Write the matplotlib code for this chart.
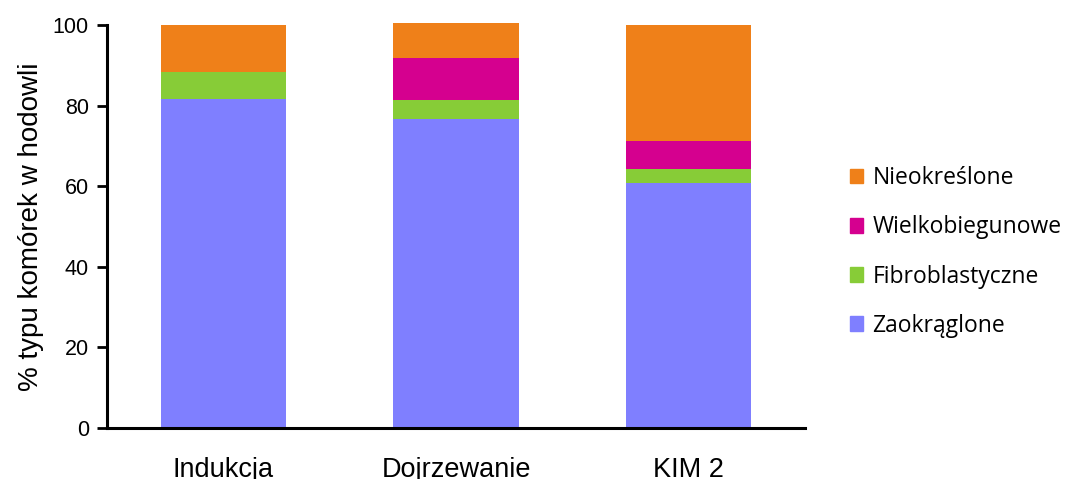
import numpy as np
import matplotlib.pyplot as plt
from matplotlib.patches import Patch

# Udział typów komórek (%) w kolejnych etapach hodowli
etapy = ['Indukcja', 'Dojrzewanie', 'KIM 2']
zaokraglone = [81.6, 76.6, 60.8]
fibroblastyczne = [6.8, 4.9, 3.4]
wielkobiegunowe = [0.0, 10.4, 6.9]
nieokreslone = [11.6, 8.5, 28.9]

serie = [
    ('Zaokrąglone', zaokraglone, '#7F7FFF'),
    ('Fibroblastyczne', fibroblastyczne, '#87CC37'),
    ('Wielkobiegunowe', wielkobiegunowe, '#D5008F'),
    ('Nieokreślone', nieokreslone, '#EF8019'),
]

plt.rcParams['font.family'] = ['Liberation Sans', 'DejaVu Sans']

fig = plt.figure(figsize=(10.79, 4.79), dpi=100)
ax = fig.add_axes([107 / 1079, 51 / 479, 698 / 1079, 403 / 479])

x = np.arange(len(etapy))
dol = np.zeros(len(etapy))
for nazwa, wartosci, kolor in serie:
    ax.bar(x, wartosci, width=0.54, bottom=dol, color=kolor, clip_on=False)
    dol += np.array(wartosci)

ax.set_xlim(-0.5, 2.5)
ax.set_ylim(0, 100)
ax.set_yticks(range(0, 101, 20))
ax.set_xticks(x)
ax.set_xticklabels(etapy, fontsize=19.5)
ax.tick_params(axis='x', length=0, pad=21)
ax.tick_params(axis='y', labelsize=15.5, width=2, length=7, pad=6)
ax.set_ylabel('% typu komórek w hodowli', fontsize=20, labelpad=6)

for s in ['top', 'right']:
    ax.spines[s].set_visible(False)
for s in ['left', 'bottom']:
    ax.spines[s].set_linewidth(2.2)

uchwyty = [Patch(color=k, label=n) for n, w, k in serie][::-1]
fig.legend(handles=uchwyty, loc='center left', bbox_to_anchor=(829 / 1079, 227 / 479),
           frameon=False, prop={'family': 'Open Sans', 'size': 16.5},
           handlelength=0.6, handleheight=0.6, handletextpad=0.4, labelspacing=1.1)

fig.savefig('out.png', dpi=100)
